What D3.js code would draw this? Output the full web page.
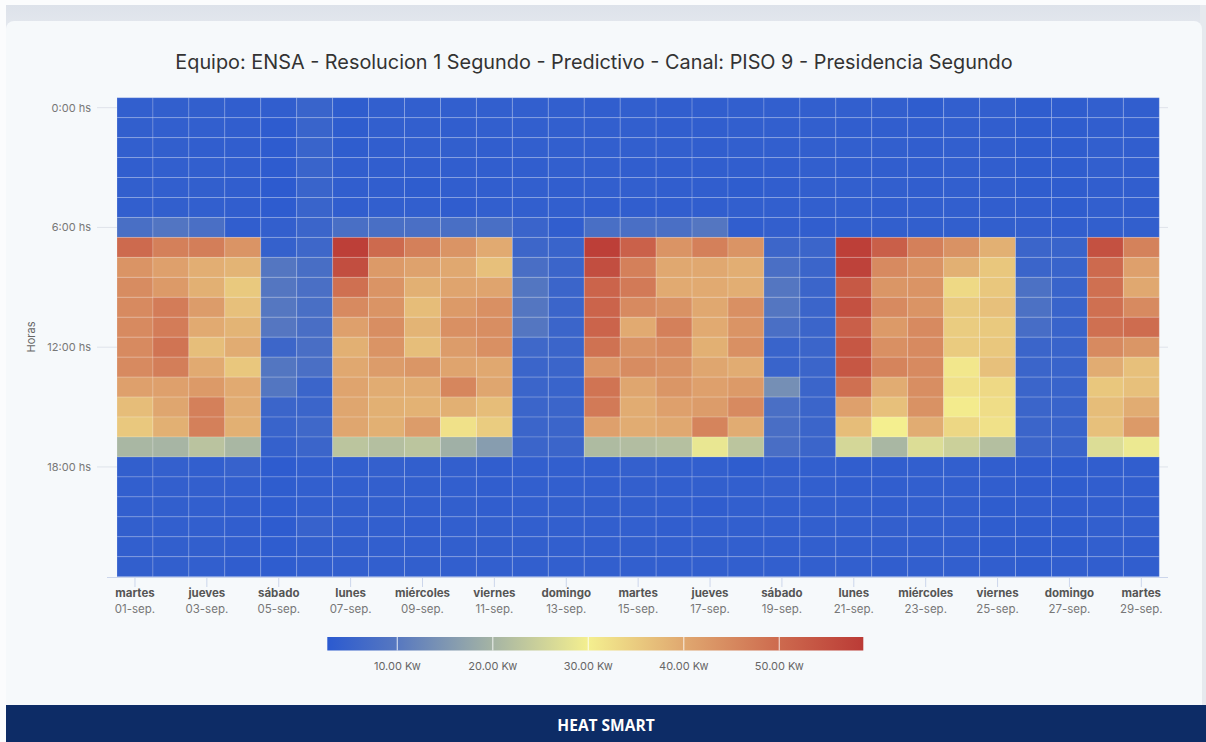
<!DOCTYPE html>
<html><head><meta charset="utf-8">
<script src="https://cdn.jsdelivr.net/npm/d3@7/dist/d3.min.js"></script>
<style>
html,body{margin:0;padding:0;background:#ffffff;}
svg{display:block;}
text{font-family:"Inter","Open Sans",sans-serif;}
</style></head>
<body>
<svg id="chart" width="1206" height="742"></svg>
<script>
// ---------- data ----------
const dates = ["01-sep.","02-sep.","03-sep.","04-sep.","05-sep.","06-sep.","07-sep.","08-sep.","09-sep.","10-sep.",
  "11-sep.","12-sep.","13-sep.","14-sep.","15-sep.","16-sep.","17-sep.","18-sep.","19-sep.","20-sep.",
  "21-sep.","22-sep.","23-sep.","24-sep.","25-sep.","26-sep.","27-sep.","28-sep.","29-sep."];
const dayNames = ["martes","miércoles","jueves","viernes","sábado","domingo","lunes","martes","miércoles","jueves",
  "viernes","sábado","domingo","lunes","martes","miércoles","jueves","viernes","sábado","domingo",
  "lunes","martes","miércoles","jueves","viernes","sábado","domingo","lunes","martes"];
const hours = d3.range(24);
const hourTicks = [0, 6, 12, 18];
const hourTickLabels = ["0:00 hs", "6:00 hs", "12:00 hs", "18:00 hs"];
// kW per day, hours 0..23
const kwByDay = [
 [3.8,3.9,3.8,3.7,3.9,3.8, 7.7, 50.0,43.2,44.5,44.8,44.8,44.8,44.8,41.3,37.1,35.5,20.5, 3.9,3.8,3.8,3.9,3.8,3.9],
 [3.9,3.8,3.9,3.8,3.8,3.9, 9.2, 46.5,41.3,42.3,47.1,47.1,48.4,46.8,41.3,40.3,38.9,20.2, 4.1,4.0,3.9,3.8,3.9,3.9],
 [3.9,3.8,3.6,3.8,3.9,3.8, 7.9, 46.7,39.1,38.9,41.9,39.7,36.9,39.7,42.3,46.5,46.5,22.6, 3.8,4.0,3.8,3.8,3.9,3.8],
 [3.7,3.7,3.7,3.7,3.7,3.6, 3.7, 43.2,38.3,35.4,36.6,38.3,39.4,35.7,39.7,39.4,38.9,20.5, 4.6,3.8,3.6,3.6,3.6,3.5],
 [3.6,3.1,3.1,3.2,3.0,3.2, 4.0, 4.3,9.5,9.5,9.7,9.6,5.7,9.4,9.4,5.4,5.0,4.3, 3.1,3.4,3.3,3.2,3.3,3.3],
 [5.0,5.0,5.0,5.0,5.0,5.0, 5.4, 5.8,7.5,7.9,7.7,7.6,7.6,7.9,5.4,5.4,6.0,5.4, 3.8,3.8,3.8,4.6,3.9,3.8],
 [3.4,3.4,3.4,3.6,3.7,3.7, 7.7, 58.0,55.2,49.0,44.8,41.3,38.9,40.0,40.6,40.3,40.3,22.8, 3.8,3.8,3.9,3.8,3.9,3.8],
 [3.8,3.8,3.6,3.7,3.7,3.8, 7.7, 50.0,42.3,43.2,43.2,44.2,43.2,41.9,39.4,38.9,38.9,21.9, 4.2,4.0,3.9,3.8,3.8,3.8],
 [3.8,3.8,3.8,3.7,3.4,3.8, 7.9, 46.5,41.0,38.9,37.1,38.3,36.9,42.9,39.4,38.6,41.9,22.8, 3.9,3.9,3.8,3.7,3.8,3.9],
 [3.8,3.7,3.9,3.6,3.7,3.5, 7.7, 43.2,40.0,40.6,42.3,43.9,41.9,40.6,45.5,38.9,32.0,19.3, 4.0,3.8,3.9,3.8,3.9,3.8],
 [3.8,3.8,3.7,3.6,3.7,3.8, 7.7, 39.7,36.6,40.6,43.9,44.2,43.9,40.0,40.3,37.1,34.9,16.2, 3.6,3.7,3.6,3.9,3.9,3.8],
 [3.8,3.8,3.8,3.7,3.8,3.8, 5.1, 5.7,7.6,9.4,9.5,9.5,6.0,5.4,5.4,5.4,5.4,5.4, 3.8,3.8,3.8,3.8,3.9,3.8],
 [3.8,3.8,3.8,3.8,3.7,3.8, 3.7, 5.0,5.4,5.4,5.4,5.4,5.4,5.4,5.0,5.4,5.4,5.4, 3.8,3.8,3.9,3.8,3.8,3.8],
 [3.6,3.8,3.8,3.8,3.8,3.6, 7.7, 58.0,55.2,51.2,51.2,51.2,48.7,43.2,48.4,47.4,41.3,21.2, 3.8,3.8,3.9,3.8,3.8,3.8],
 [3.8,3.8,3.8,3.7,3.8,3.7, 7.9, 51.6,46.5,47.4,44.8,39.7,43.5,44.5,40.3,39.4,39.4,21.6, 4.1,4.0,3.9,3.8,3.9,3.8],
 [3.6,3.7,3.8,3.6,3.6,3.6, 7.9, 43.2,40.0,39.7,43.5,46.5,44.8,43.5,42.9,41.3,40.0,22.0, 3.8,3.8,3.8,3.6,3.8,3.8],
 [3.6,3.6,3.6,3.6,3.6,3.6, 9.5, 46.5,40.0,39.7,40.0,39.7,38.9,40.3,41.3,41.9,45.8,28.6, 3.8,3.9,3.5,3.8,3.9,3.8],
 [3.8,3.8,3.8,3.6,3.4,3.8, 3.7, 43.2,39.1,39.1,43.9,43.2,43.9,39.4,42.3,44.8,39.4,22.8, 3.4,3.8,3.8,3.8,3.8,3.8],
 [3.8,3.8,3.8,3.7,3.7,3.8, 4.0, 5.7,7.9,9.5,9.5,7.9,5.0,5.0,13.8,7.9,7.6,7.6, 4.0,4.2,3.8,3.8,3.8,3.8],
 [3.8,3.8,3.8,3.8,3.8,3.8, 3.7, 5.4,5.4,5.4,5.4,5.4,5.4,5.4,5.4,5.4,5.4,5.4, 3.8,3.8,3.8,3.8,3.8,3.8],
 [3.8,3.6,3.8,3.6,3.8,3.8, 3.9, 58.0,57.5,53.2,54.6,52.0,53.6,53.6,49.0,41.3,37.1,25.9, 3.6,3.6,3.8,3.8,3.8,3.8],
 [3.8,3.6,3.8,3.6,3.8,3.6, 3.9, 52.0,44.8,42.9,44.8,42.3,43.9,45.8,39.4,36.6,30.0,20.5, 3.6,3.6,3.6,4.0,3.8,3.6],
 [3.4,3.7,3.7,3.6,3.6,3.8, 3.9, 46.5,43.2,43.2,43.2,44.8,44.8,44.8,44.2,43.5,39.4,26.9, 3.8,3.8,3.8,3.8,3.8,3.8],
 [3.8,3.8,3.8,3.8,3.8,3.8, 3.9, 43.5,38.9,33.1,35.4,34.9,35.1,31.1,32.1,30.6,33.4,24.8, 3.8,3.8,3.8,3.8,3.8,3.8],
 [3.8,3.6,3.6,3.6,3.6,3.6, 3.9, 38.9,35.7,35.7,36.6,35.4,35.7,36.6,33.1,32.6,32.0,21.9, 3.6,3.6,3.4,3.4,3.4,3.6],
 [3.4,3.4,3.4,3.4,3.4,3.6, 4.0, 5.4,5.4,8.2,8.2,7.4,5.4,5.4,5.4,5.4,5.4,5.4, 3.5,3.5,3.6,3.4,3.4,3.4],
 [3.4,3.4,3.4,3.4,3.4,3.4, 3.7, 5.0,5.0,5.0,5.0,5.0,5.0,5.0,5.0,5.0,5.0,5.0, 3.4,3.4,3.5,3.4,3.4,3.6],
 [3.8,3.6,3.8,3.8,3.6,3.8, 3.9, 54.6,50.0,49.0,49.0,49.0,44.8,39.4,35.7,37.1,36.6,26.9, 3.6,3.6,3.6,3.8,3.8,3.6],
 [3.6,3.6,3.6,3.6,3.6,3.6, 3.9, 46.1,41.3,40.0,44.8,49.7,42.9,36.6,36.6,39.4,42.3,29.0, 3.6,3.6,3.6,3.8,3.6,3.6]
];
const colorStops = [2.67, 10, 20, 30, 40, 50, 58.8];
const colorRange = ["#2b5ad0", "#5778c0", "#a5b4a4", "#f4ef8f", "#e0a870", "#cd6a4e", "#bb3b36"];
const legendTicks = [10, 20, 30, 40, 50];
const titleText = "Equipo: ENSA - Resolucion 1 Segundo - Predictivo - Canal: PISO 9 - Presidencia Segundo";

// ---------- drawing ----------
const svg = d3.select("#chart");
const defs = svg.append("defs");

// page chrome
const topGrad = defs.append("linearGradient").attr("id","topg").attr("x1",0).attr("y1",0).attr("x2",0).attr("y2",1);
topGrad.append("stop").attr("offset","0%").attr("stop-color","#dde2ea");
topGrad.append("stop").attr("offset","100%").attr("stop-color","#e9ecf1");
svg.append("rect").attr("x",0).attr("y",0).attr("width",1206).attr("height",742).attr("fill","#fbfcfd");
svg.append("rect").attr("x",6).attr("y",5).attr("width",1200).attr("height",40).attr("fill","url(#topg)");
svg.append("rect").attr("x",1200).attr("y",5).attr("width",6).attr("height",700).attr("fill","#e6e9ee");
svg.append("rect").attr("x",6).attr("y",21).attr("width",1196).attr("height",700).attr("rx",8).attr("fill","#f6f9fb");
svg.append("rect").attr("x",6).attr("y",705).attr("width",1200).attr("height",37).attr("fill","#0d2c66");
svg.append("text").attr("x",606).attr("y",731).attr("text-anchor","middle")
  .attr("fill","#ffffff").attr("font-size",15.5).attr("font-weight",700)
  .style("font-family","'Open Sans',sans-serif").text("HEAT SMART");

// title
const title = svg.append("text").attr("x",594).attr("y",69).attr("text-anchor","middle")
  .attr("fill","#333333").attr("font-size",18).text(titleText);
const tw = title.node().getComputedTextLength();
title.attr("font-size", 18 * 838 / tw);

// scales
const x = d3.scaleBand().domain(d3.range(dates.length)).range([117, 1159.3]).padding(0);
const y = d3.scaleBand().domain(hours).range([97.7, 576.7]).padding(0);
const color = d3.scaleLinear().domain(colorStops).range(colorRange).interpolate(d3.interpolateRgb).clamp(true);

// y gridlines
svg.append("g").selectAll("line").data(hourTicks).join("line")
  .attr("x1",97).attr("x2",1168)
  .attr("y1",d=>y(d)+y.bandwidth()/2).attr("y2",d=>y(d)+y.bandwidth()/2)
  .attr("stroke","#dfe3ea").attr("stroke-width",1);

// cells
const cells = [];
kwByDay.forEach((arr,di)=>arr.forEach((v,h)=>cells.push({d:di,h:h,v:v})));
svg.append("g").selectAll("rect").data(cells).join("rect")
  .attr("x",d=>x(d.d)).attr("y",d=>y(d.h))
  .attr("width",x.bandwidth()).attr("height",y.bandwidth())
  .attr("fill",d=>color(d.v))
  .attr("stroke","rgba(255,255,255,0.18)").attr("stroke-width",1);

// y labels
svg.append("g").selectAll("text").data(hourTicks).join("text")
  .attr("x",91).attr("y",d=>y(d)+y.bandwidth()/2+4)
  .attr("text-anchor","end").attr("font-size",11).attr("fill","#777777")
  .text((d,i)=>hourTickLabels[i]);
svg.append("text").attr("transform","translate(35,337) rotate(-90)")
  .attr("text-anchor","middle").attr("font-size",11).attr("fill","#666666").text("Horas");

// x axis
const tickIdx = d3.range(0, dates.length, 2);
const xAxis = d3.axisBottom(x).tickValues(tickIdx).tickSize(10).tickFormat("");
const gx = svg.append("g").attr("transform","translate(0,577)").call(xAxis);
gx.select(".domain").remove();
gx.selectAll(".tick line").attr("stroke","#ccd6eb");
svg.append("line").attr("x1",107).attr("x2",1168).attr("y1",577.5).attr("y2",577.5).attr("stroke","#ccd6eb");
const lab = svg.append("g").selectAll("g").data(tickIdx).join("g")
  .attr("transform",d=>`translate(${x(d)+x.bandwidth()/2},0)`);
lab.append("text").attr("y",597).attr("text-anchor","middle").attr("font-size",11.5)
  .attr("font-weight",700).attr("fill","#555555").text(d=>dayNames[d]);
lab.append("text").attr("y",613).attr("text-anchor","middle").attr("font-size",11.5)
  .attr("fill","#777777").text(d=>dates[d]);

// legend
const lx = d3.scaleLinear().domain([colorStops[0], colorStops[colorStops.length-1]]).range([327.3, 863.3]);
const lg = defs.append("linearGradient").attr("id","lgrad").attr("x1",0).attr("x2",1).attr("y1",0).attr("y2",0);
colorStops.forEach((s,i)=>lg.append("stop")
  .attr("offset",((s-colorStops[0])/(colorStops[colorStops.length-1]-colorStops[0])*100)+"%")
  .attr("stop-color",colorRange[i]));
svg.append("rect").attr("x",lx.range()[0]).attr("y",637).attr("width",lx.range()[1]-lx.range()[0])
  .attr("height",13.5).attr("fill","url(#lgrad)");
svg.append("g").selectAll("line").data(legendTicks).join("line")
  .attr("x1",d=>lx(d)).attr("x2",d=>lx(d)).attr("y1",637).attr("y2",650.5)
  .attr("stroke","#ffffff").attr("stroke-opacity",0.7).attr("stroke-width",1.2);
svg.append("g").selectAll("text").data(legendTicks).join("text")
  .attr("x",d=>lx(d)).attr("y",670).attr("text-anchor","middle").attr("font-size",11)
  .attr("fill","#666666").text(d=>d3.format(".2f")(d)+" Kw");
</script>
</body></html>
